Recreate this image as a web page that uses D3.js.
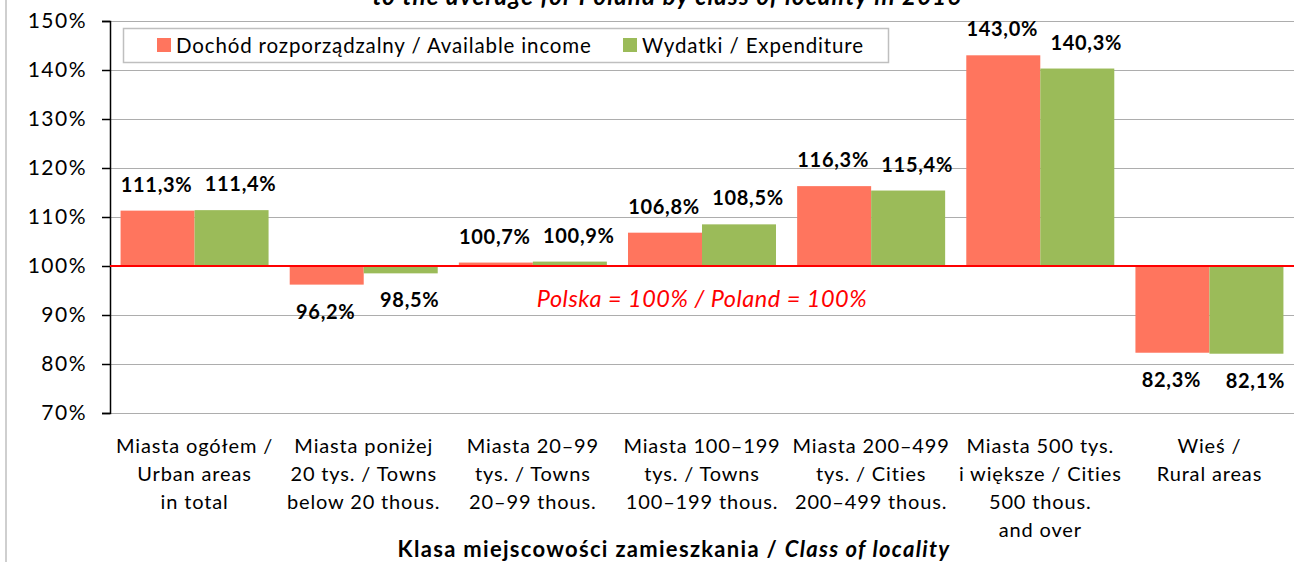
<!DOCTYPE html>
<html>
<head>
<meta charset="utf-8">
<script src="https://cdn.jsdelivr.net/npm/d3@7/dist/d3.min.js"></script>
<style>
  html, body { margin: 0; padding: 0; background: #fff; }
  svg { display: block; font-family: Lato, "Open Sans", sans-serif; }
</style>
</head>
<body>
<svg id="chart" width="1314" height="562"></svg>
<script>
// ---- data ----
const categories = [
  ["Miasta ogółem /", "Urban areas", "in total"],
  ["Miasta poniżej", "20 tys. / Towns", "below 20 thous."],
  ["Miasta 20–99", "tys. / Towns", "20–99 thous."],
  ["Miasta 100–199", "tys. / Towns", "100–199 thous."],
  ["Miasta 200–499", "tys. / Cities", "200–499 thous."],
  ["Miasta 500 tys.", "i większe / Cities", "500 thous.", "and over"],
  ["Wieś /", "Rural areas"]
];
const seriesNames = ["Dochód rozporządzalny / Available income", "Wydatki / Expenditure"];
const incomeValues = [111.3, 96.2, 100.7, 106.8, 116.3, 143.0, 82.3];
const expenditureValues = [111.4, 98.5, 100.9, 108.5, 115.4, 140.3, 82.1];
const yTicks = [70, 80, 90, 100, 110, 120, 130, 140, 150];
const baseline = 100;
const titleText = "to the average for Poland by class of locality in 2016";
const refLabel = "Polska = 100% / Poland = 100%";
const axisTitleBold = "Klasa miejscowości zamieszkania / ";
const axisTitleItalic = "Class of locality";

// ---- layout ----
const colors = ["#FF755E", "#9BBB59"];
const svg = d3.select("#chart");
const plotLeft = 110, plotRight = 1294, plotTop = 21, plotBottom = 413;

const x0 = d3.scaleBand().domain(d3.range(categories.length)).range([plotLeft, plotRight])
  .paddingInner(0.125).paddingOuter(0.0625);
const x1 = d3.scaleBand().domain([0, 1]).range([0, x0.bandwidth()]);
const y = d3.scaleLinear().domain([70, 150]).range([plotBottom, plotTop]);

// frame line on the left
svg.append("line").attr("x1", 6).attr("x2", 6).attr("y1", 0).attr("y2", 562)
  .attr("stroke", "#BFBFBF").attr("stroke-width", 1.5);

// title (partially cut off, as in the reference)
svg.append("text").attr("x", 667).attr("y", 5).attr("text-anchor", "middle")
  .attr("font-size", 24).attr("font-weight", "bold").attr("font-style", "italic")
  .attr("letter-spacing", 1.2).attr("fill", "#000").text(titleText);

// gridlines
svg.append("g").selectAll("line").data(yTicks).join("line")
  .attr("x1", plotLeft).attr("x2", plotRight)
  .attr("y1", d => Math.round(y(d)) + 0.5).attr("y2", d => Math.round(y(d)) + 0.5)
  .attr("stroke", "#ADADAD").attr("stroke-width", 1.2);

// y axis
const yAxis = d3.axisLeft(y).tickValues(yTicks).tickSize(8).tickPadding(15)
  .tickFormat(d => d + "%");
const gy = svg.append("g").attr("transform", `translate(${plotLeft},0)`).call(yAxis);
gy.select(".domain").attr("stroke", "#000").attr("stroke-width", 1.5);
gy.selectAll(".tick line").attr("stroke", "#000").attr("stroke-width", 1.5);
gy.selectAll(".tick text").attr("font-size", 21).attr("letter-spacing", 1.5).attr("fill", "#000")
  .attr("font-family", "Lato, sans-serif");

// bars
const seriesValues = [incomeValues, expenditureValues];
const groups = svg.append("g").selectAll("g").data(categories).join("g")
  .attr("transform", (d, i) => `translate(${x0(i)},0)`);

groups.selectAll("rect").data((d, i) => seriesValues.map((vals, s) => ({ s, v: vals[i] })))
  .join("rect")
  .attr("x", d => x1(d.s))
  .attr("width", x1.bandwidth())
  .attr("y", d => y(Math.max(d.v, baseline)))
  .attr("height", d => Math.abs(y(d.v) - y(baseline)))
  .attr("fill", d => colors[d.s]);

// value labels
const labelDx = [-1, 9];
groups.selectAll("text.val").data((d, i) => seriesValues.map((vals, s) => ({ s, v: vals[i] })))
  .join("text").attr("class", "val")
  .attr("x", d => x1(d.s) + x1.bandwidth() / 2 + labelDx[d.s])
  .attr("y", d => d.v >= baseline ? y(d.v) - 19 : y(d.v) + 34)
  .attr("text-anchor", "middle")
  .attr("font-size", 20).attr("letter-spacing", 0.7).attr("font-weight", "bold").attr("fill", "#000")
  .text(d => d.v.toFixed(1).replace(".", ",") + "%");

// reference line at 100%
svg.append("line").attr("x1", plotLeft).attr("x2", plotRight)
  .attr("y1", y(baseline)).attr("y2", y(baseline))
  .attr("stroke", "#FF0000").attr("stroke-width", 2);

svg.append("text").attr("x", 702).attr("y", 307).attr("text-anchor", "middle")
  .attr("font-size", 23.5).attr("letter-spacing", 0.5).attr("font-style", "italic").attr("fill", "#FF0000")
  .text(refLabel);

// category labels
groups.each(function (lines, i) {
  const t = d3.select(this).append("text")
    .attr("text-anchor", "middle").attr("font-size", 20).attr("letter-spacing", 0.85).attr("fill", "#000");
  lines.forEach((ln, k) => {
    t.append("tspan").attr("x", x0.bandwidth() / 2).attr("y", 453 + k * 28).text(ln);
  });
});

// axis title
const at = svg.append("text").attr("x", 674).attr("y", 557).attr("text-anchor", "middle")
  .attr("font-size", 22).attr("letter-spacing", 1.3).attr("font-weight", "bold").attr("fill", "#000");
at.append("tspan").text(axisTitleBold);
at.append("tspan").attr("font-style", "italic").text(axisTitleItalic);

// legend
const lg = svg.append("g");
lg.append("rect").attr("x", 123.5).attr("y", 28.5).attr("width", 765).attr("height", 34)
  .attr("fill", "#fff").attr("stroke", "#BFBFBF").attr("stroke-width", 1.5);
const legendX = [157, 623];
seriesNames.forEach((name, s) => {
  lg.append("rect").attr("x", legendX[s]).attr("y", 38).attr("width", 14).attr("height", 14)
    .attr("fill", colors[s]);
  lg.append("text").attr("x", legendX[s] + 19).attr("y", 52.5)
    .attr("font-size", 20.5).attr("letter-spacing", 0.85).attr("fill", "#000").text(name);
});
</script>
</body>
</html>
